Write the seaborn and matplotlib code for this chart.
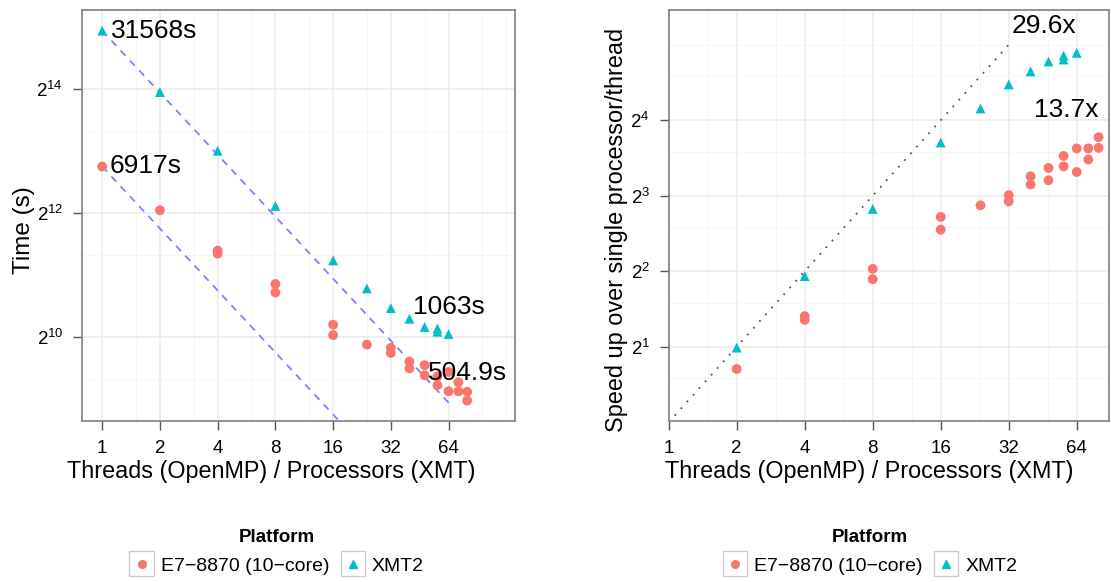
import numpy as np
import pandas as pd
import seaborn as sns
import matplotlib
matplotlib.use("Agg")
import matplotlib.pyplot as plt
from matplotlib.ticker import FixedLocator, NullFormatter
from matplotlib.patches import Rectangle
from matplotlib.lines import Line2D
from matplotlib.legend_handler import HandlerBase

# values
e7_threads = [1, 2, 4, 4, 8, 8, 16, 16, 24, 32, 32, 40, 40, 48, 48, 56, 56, 64, 64, 72, 72, 80, 80]
e7_times = [6917, 4240, 2700, 2610, 1860, 1690, 1180, 1050, 944, 910, 860, 780, 723,
            750, 670, 660, 600, 695, 560, 620, 560, 557, 504.9]
xmt_procs = [1, 2, 4, 8, 16, 24, 32, 40, 48, 56, 56, 64]
xmt_times = [31568, 15900, 8250, 4450, 2420, 1770, 1420, 1260, 1150, 1130, 1090, 1063]

platforms = ["E7\u22128870 (10\u2212core)", "XMT2"]
colors = {platforms[0]: "#F8766D", platforms[1]: "#00BFC4"}
markers = {platforms[0]: "o", platforms[1]: "^"}
x_ticks = [1, 2, 4, 8, 16, 32, 64]

df = pd.DataFrame({
    "threads": e7_threads + xmt_procs,
    "time": e7_times + xmt_times,
    "Platform": [platforms[0]] * len(e7_threads) + [platforms[1]] * len(xmt_procs),
})
# speed up relative to the single processor/thread run of each platform
base = df[df.threads == 1].set_index("Platform")["time"]
df["speedup"] = base[df.Platform].values / df["time"]

sns.set_style("white")
plt.rcParams["font.family"] = ["Liberation Sans", "DejaVu Sans"]
plt.rcParams["mathtext.fontset"] = "custom"
plt.rcParams["mathtext.rm"] = "Liberation Sans"
plt.rcParams["text.color"] = "black"
plt.rcParams["axes.labelcolor"] = "black"

fig = plt.figure(figsize=(11.11, 5.82), dpi=100)
ax1 = fig.add_axes([0.0738, 0.2766, 0.3897, 0.7062])
ax2 = fig.add_axes([0.6019, 0.2766, 0.3963, 0.7062])


def style_axis(ax, xminor, yticks, yminor):
    ax.set_xscale("log", base=2)
    ax.set_yscale("log", base=2)
    ax.xaxis.set_major_locator(FixedLocator(x_ticks))
    ax.set_xticklabels([str(t) for t in x_ticks])
    ax.xaxis.set_minor_locator(FixedLocator(xminor))
    ax.yaxis.set_major_locator(FixedLocator(yticks))
    ax.set_yticklabels([r"$\mathregular{2^{%d}}$" % int(np.log2(t)) for t in yticks])
    ax.yaxis.set_minor_locator(FixedLocator(yminor))
    ax.xaxis.set_minor_formatter(NullFormatter())
    ax.yaxis.set_minor_formatter(NullFormatter())
    ax.grid(which="major", color="#EBEBEB", linewidth=1.1, zorder=0)
    ax.grid(which="minor", color="#F5F5F5", linewidth=0.7, zorder=0)
    ax.set_axisbelow(True)
    ax.tick_params(which="major", length=6.5, width=1, color="#555555", labelsize=13.5,
                   labelcolor="black", pad=7, bottom=True, left=True)
    ax.tick_params(which="minor", length=0)
    for s in ax.spines.values():
        s.set_color("#7F7F7F")
        s.set_linewidth(1.2)
    ax.set_xlabel("Threads (OpenMP) / Processors (XMT)", fontsize=16.8)


# left: run time
xs = np.array([1, 64])
ax1.plot(xs, base[platforms[1]] / xs, color="#8080FF", ls=(0, (4, 3.5)), lw=1.3, zorder=2)
ax1.plot(xs, base[platforms[0]] / xs, color="#8080FF", ls=(0, (4, 3.5)), lw=1.3, zorder=2)
sns.scatterplot(data=df, x="threads", y="time", hue="Platform", style="Platform",
                palette=colors, markers=markers, s=50, linewidth=0, legend=False,
                ax=ax1, zorder=3)
style_axis(ax1, [1.5, 3, 6, 12, 24, 48, 96, 128], [1024, 4096, 16384], [640, 2560, 10240])
ax1.set_xlim(2 ** -0.35, 2 ** 7.15)
ax1.set_ylim(2 ** 8.65, 2 ** 15.28)
ax1.set_ylabel("Time (s)", fontsize=17.5)
ax1.yaxis.set_label_coords(-0.108, 0.465)
ax1.xaxis.set_label_coords(0.4376, -0.094)

ax1.annotate("31568s", (1, 31568), xytext=(6, 0), textcoords="offset points",
             ha="left", va="center", fontsize=19)
ax1.annotate("6917s", (1, 6917), xytext=(5, 0), textcoords="offset points",
             ha="left", va="center", fontsize=19)
ax1.annotate("1063s", (64, 1063), xytext=(0, 19.5), textcoords="offset points",
             ha="center", va="center", fontsize=19)
ax1.annotate("504.9s", (80, 504.9), xytext=(0, 20), textcoords="offset points",
             ha="center", va="center", fontsize=19)

# right: speed up
ideal = np.array([1, 32])
ax2.plot(ideal, ideal, color="#555555", ls=(0, (1, 4)), lw=1.3, zorder=2)
sns.scatterplot(data=df[df.threads > 1], x="threads", y="speedup", hue="Platform",
                style="Platform", palette=colors, markers=markers, s=50, linewidth=0,
                legend=False, ax=ax2, zorder=3)
style_axis(ax2, [1.5, 3, 6, 12, 24, 48], [2, 4, 8, 16], [1.5, 3, 6, 12, 24, 32])
ax2.set_xlim(1, 2 ** 6.475)
ax2.set_ylim(2 ** 0.017, 2 ** 5.46)
ax2.set_ylabel("Speed up over single processor/thread", fontsize=16.9)
ax2.yaxis.set_label_coords(-0.093, 0.465)
ax2.xaxis.set_label_coords(0.455, -0.094)

sp_xmt = base[platforms[1]] / 1063
sp_e7 = base[platforms[0]] / 504.9
ax2.annotate("%.1fx" % 29.6, (64, sp_xmt), xytext=(0, 19.5), textcoords="offset points",
             ha="right", va="center", fontsize=19)
ax2.annotate("%.1fx" % sp_e7, (80, sp_e7), xytext=(0, 19.5), textcoords="offset points",
             ha="right", va="center", fontsize=19)


class BoxedKey(HandlerBase):
    def create_artists(self, legend, orig_handle, xdescent, ydescent, width, height,
                       fontsize, trans):
        box = Rectangle((-xdescent, -ydescent - 3), width, height + 6, facecolor="white",
                        edgecolor="#CCCCCC", linewidth=1, transform=trans)
        mk = Line2D([width / 2 - xdescent], [height / 2 - ydescent], marker=orig_handle.get_marker(),
                    color=orig_handle.get_color(), markersize=5.5, linestyle="none",
                    transform=trans)
        return [box, mk]


handles = [Line2D([], [], marker=markers[p], color=colors[p], linestyle="none") for p in platforms]
for cx in [0.249, 0.783]:
    leg = fig.legend(handles, platforms, loc="center", bbox_to_anchor=(cx, 0.052), ncol=2,
                     frameon=False, fontsize=14, title="Platform",
                     title_fontproperties={"weight": "bold", "size": 13.5},
                     handler_map={Line2D: BoxedKey()}, handlelength=1.25, handleheight=0.95,
                     handletextpad=0.35, columnspacing=0.6, borderaxespad=0)

fig.savefig("out.png", dpi=100)
